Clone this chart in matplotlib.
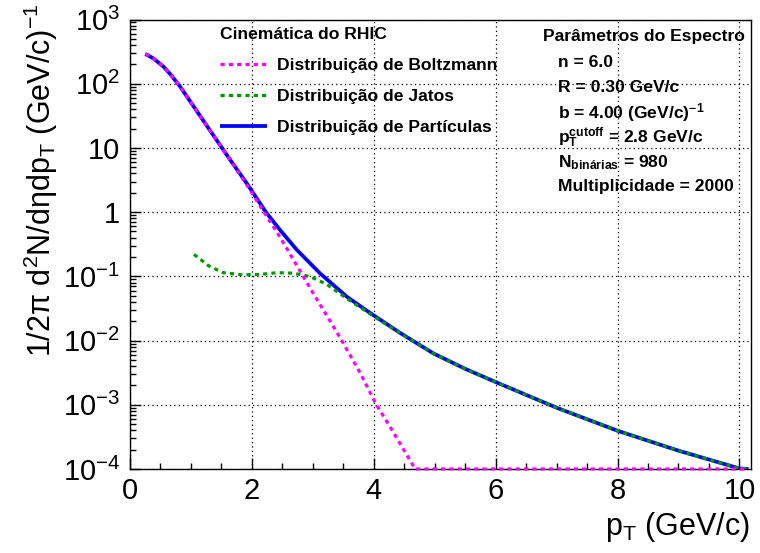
import matplotlib
matplotlib.use("Agg")
import matplotlib.pyplot as plt
from matplotlib.ticker import FixedLocator, FuncFormatter, MultipleLocator, LogLocator, NullFormatter

plt.rcParams['font.family'] = ['Liberation Sans', 'DejaVu Sans']
plt.rcParams['mathtext.fontset'] = 'custom'
plt.rcParams['mathtext.rm'] = 'Liberation Sans'
plt.rcParams['mathtext.it'] = 'Liberation Sans'
plt.rcParams['mathtext.bf'] = 'Liberation Sans:bold'

# --- spectra (pT in GeV/c, yield per unit) ---
boltz_pt = [0.25, 0.30, 0.38, 0.55, 0.66, 0.82, 1.10, 1.37, 1.64, 1.90, 2.20, 2.41, 2.55,
            2.68, 2.98, 3.28, 3.50, 3.78, 4.03, 4.27, 4.68, 10.15]
boltz_y = [290, 275, 249, 184, 141, 91, 37, 15.6, 6.6, 2.8, 1.0, 0.49, 0.295,
           0.182, 0.060, 0.0204, 0.0091, 3.1e-3, 1.05e-3, 4.5e-4, 1.0e-4, 1.0e-4]

jets_pt = [1.05, 1.29, 1.53, 1.83, 2.13, 2.41, 2.68, 2.96, 3.23, 3.56, 3.94, 4.43,
           4.98, 5.50, 6.00, 7.00, 8.00, 9.00, 10.00, 10.15]
jets_y = [0.22, 0.146, 0.114, 0.106, 0.107, 0.114, 0.112, 0.099, 0.075, 0.045, 0.026, 0.0131,
          6.3e-3, 3.62e-3, 2.26e-3, 9.0e-4, 3.94e-4, 1.93e-4, 1.02e-4, 1.0e-4]

part_pt = [0.25, 0.30, 0.38, 0.55, 0.66, 0.82, 1.10, 1.37, 1.64, 1.90, 2.23, 2.46, 2.74,
           3.12, 3.56, 3.94, 4.43, 4.98, 5.50, 6.00, 7.00, 8.00, 9.00, 10.00, 10.15]
part_y = [290, 275, 249, 184, 141, 91, 37, 15.6, 6.6, 2.95, 1.0, 0.53, 0.257,
          0.111, 0.048, 0.0269, 0.0132, 6.3e-3, 3.63e-3, 2.26e-3, 9.0e-4, 3.94e-4,
          1.93e-4, 1.02e-4, 1.0e-4]

legend_title = "Cinemática do RHIC"
legend_labels = ["Distribuição de Boltzmann", "Distribuição de Jatos", "Distribuição de Partículas"]

params_title = "Parâmetros do Espectro"
params_lines = [
    "n = 6.0",
    "R = 0.30 GeV/c",
    r"b = 4.00 (GeV/c)$^{\mathbf{-1}}$",
    r"$\mathbf{p}_{\mathbf{T}}^{\mathbf{cutoff}}$ = 2.8 GeV/c",
    r"N$_{\mathbf{binárias}}$ = 980",
    "Multiplicidade = 2000",
]

ytick_vals = [1e-4, 1e-3, 1e-2, 1e-1, 1, 10, 1e2, 1e3]
ytick_text = [r"$10^{-4}$", r"$10^{-3}$", r"$10^{-2}$", r"$10^{-1}$", "1", "10", r"$10^{2}$", r"$10^{3}$"]

fig = plt.figure(figsize=(7.6, 5.53), dpi=100)
ax = fig.add_axes([130 / 760, 84 / 553, 621 / 760, 449.5 / 553])

l_part, = ax.plot(part_pt, part_y, color="#0000ff", lw=2.7, solid_capstyle="butt", zorder=3)
l_jets, = ax.plot(jets_pt, jets_y, color="#009900", lw=2.3, ls=(0, (1.3, 1.3)), zorder=4)
l_boltz, = ax.plot(boltz_pt, boltz_y, color="#ff00ff", lw=2.3, ls=(0, (1.3, 1.3)), zorder=5,
                   clip_on=False)

ax.set_yscale("log")
ax.set_xlim(0, 10.19)
ax.set_ylim(1e-4, 1e3)

ax.xaxis.set_major_locator(MultipleLocator(2))
ax.xaxis.set_minor_locator(MultipleLocator(0.5))
ax.yaxis.set_major_locator(FixedLocator(ytick_vals))
ax.yaxis.set_major_formatter(FuncFormatter(lambda v, p: dict(zip(ytick_vals, ytick_text)).get(v, "")))
ax.yaxis.set_minor_locator(LogLocator(base=10, subs=range(2, 10), numticks=20))
ax.yaxis.set_minor_formatter(NullFormatter())

ax.tick_params(which="both", direction="in", labelsize=21, width=1.0, color="black")
ax.tick_params(which="major", length=8)
ax.tick_params(which="minor", length=4.5)
ax.tick_params(axis="x", pad=6)
ax.tick_params(axis="y", pad=7)

ax.grid(True, which="major", color="black", lw=0.9, ls=(0, (1, 2.5)))
for s in ax.spines.values():
    s.set_linewidth(1.0)

leg = ax.legend([l_boltz, l_jets, l_part], legend_labels, title=legend_title,
                loc="upper left", bbox_to_anchor=(211 / 760, 1 - 18 / 553),
                bbox_transform=fig.transFigure, frameon=False, borderpad=0,
                handlelength=2.72, handletextpad=0.57, labelspacing=0.91,
                prop={"weight": "bold", "size": 12.6},
                title_fontproperties={"weight": "bold", "size": 12.6}, alignment="left")

fig.text(543 / 760, 1 - 37 / 553, params_title, fontsize=12.6, fontweight="bold",
         ha="left", va="center")
for i, line in enumerate(params_lines):
    fig.text(558 / 760, 1 - (63 + 24.8 * i) / 553, line, fontsize=12.6, fontweight="bold",
             ha="left", va="center")

fig.text(41 / 760, 1 - 3 / 553, r"1/2π d$^{2}$N/dηdp$_{T}$ (GeV/c)$^{-1}$",
         rotation=90, fontsize=22, ha="center", va="top")
fig.text(750 / 760, 18 / 553, r"p$_{T}$ (GeV/c)", fontsize=22, ha="right", va="baseline")

fig.savefig("out.png", dpi=100)
